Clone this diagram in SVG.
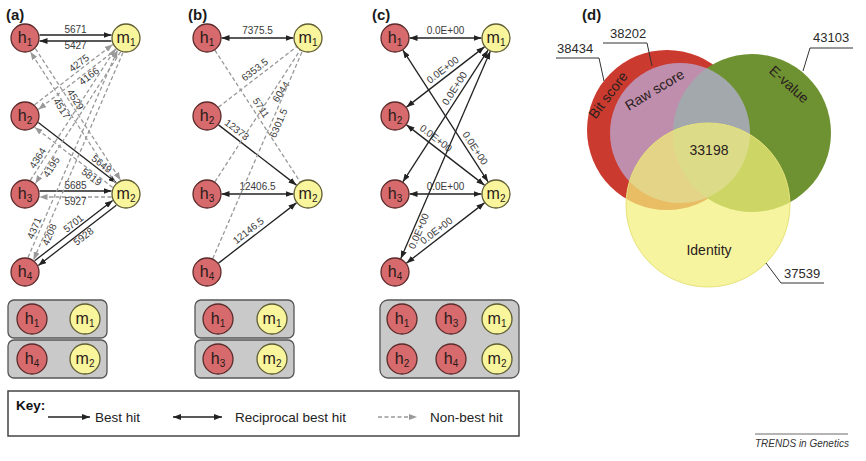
<svg xmlns="http://www.w3.org/2000/svg" width="866" height="461" viewBox="0 0 866 461">
<defs>
<style>
.pl{font:bold 15px "Liberation Sans",Arial,sans-serif;fill:#1a1a1a}
.nh{fill:#d66a6c;stroke:#5b2b2b;stroke-width:1.3}
.nm{fill:#f8f59c;stroke:#5f5c33;stroke-width:1.3}
.nt{font:16px "Liberation Sans",Arial,sans-serif;fill:#2a1a1a;text-anchor:middle}
.sub{font-size:10px}
.el{font:10px "Liberation Sans",Arial,sans-serif;fill:#3a3a3a;text-anchor:middle}
.s{stroke:#222;stroke-width:1.3;fill:none}
.sk{stroke:#222;stroke-width:1.3;fill:none;marker-end:url(#ak)}
.sk2{stroke:#222;stroke-width:1.3;fill:none;marker-end:url(#ak);marker-start:url(#ak)}
.d{stroke:#999;stroke-width:1.3;stroke-dasharray:4 2.5;fill:none}
.dg{stroke:#999;stroke-width:1.3;stroke-dasharray:4 2.5;fill:none;marker-end:url(#ag)}
.box{fill:#c9c9c9;stroke:#555;stroke-width:1.3}
.kt{font:13.5px "Liberation Sans",Arial,sans-serif;fill:#222}
.vt{font:14px "Liberation Sans",Arial,sans-serif;fill:#2a2020;text-anchor:middle}
.lt{font:13px "Liberation Sans",Arial,sans-serif;fill:#2a2a2a}
.ll{stroke:#333;stroke-width:1;fill:none}
</style>
<marker id="ak" viewBox="0 0 8 6" refX="8" refY="3" markerWidth="8" markerHeight="6" markerUnits="userSpaceOnUse" orient="auto-start-reverse"><path d="M0,0L8,3L0,6z" fill="#222"/></marker>
<marker id="ag" viewBox="0 0 8 6" refX="8" refY="3" markerWidth="8" markerHeight="6" markerUnits="userSpaceOnUse" orient="auto-start-reverse"><path d="M0,0L8,3L0,6z" fill="#999"/></marker>
</defs>
<rect width="866" height="461" fill="#fff"/>

<text class="pl" x="6" y="20">(a)</text>
<text class="pl" x="188" y="20">(b)</text>
<text class="pl" x="372" y="20">(c)</text>
<text class="pl" x="582" y="20">(d)</text>

<!-- connectors -->
<g id="connectors">
 <!-- panel a -->
 <g transform="translate(25,38)">
  <line class="sk" x1="14.5" y1="-3" x2="86.5" y2="-3"/>
  <line class="sk" x1="86.5" y1="3" x2="14.5" y2="3"/>
  <text class="el" x="50.5" y="-5.5">5671</text><text class="el" x="50.5" y="11">5427</text>
 </g>
 <g transform="translate(25,194)">
  <line class="sk" x1="14.5" y1="-3" x2="86.5" y2="-3"/>
  <line class="dg" x1="86.5" y1="3" x2="14.5" y2="3"/>
  <text class="el" x="50.5" y="-5.5">5685</text><text class="el" x="50.5" y="11">5927</text>
 </g>
 <g transform="translate(25,116) rotate(37.68)">
  <line class="sk" x1="14.5" y1="-3" x2="113.1" y2="-3"/>
  <line class="dg" x1="113.1" y1="3" x2="14.5" y2="3"/>
  <text class="el" x="90" y="-5.5">5649</text><text class="el" x="90" y="11">5819</text>
 </g>
 <g transform="translate(25,272) rotate(-37.68)">
  <line class="sk" x1="14.5" y1="-3" x2="113.1" y2="-3"/>
  <line class="sk" x1="113.1" y1="3" x2="14.5" y2="3"/>
  <text class="el" x="68" y="-5.5">5701</text><text class="el" x="68" y="11">5928</text>
 </g>
 <g transform="translate(25,38) rotate(57.08)">
  <line class="dg" x1="14.5" y1="-3" x2="171.3" y2="-3"/>
  <line class="dg" x1="171.3" y1="3" x2="14.5" y2="3"/>
  <text class="el" x="79" y="-5.5">4529</text><text class="el" x="79" y="11">4517</text>
 </g>
 <g transform="translate(25,116) rotate(-37.68)">
  <line class="dg" x1="14.5" y1="-3" x2="113.1" y2="-3"/>
  <line class="dg" x1="113.1" y1="3" x2="14.5" y2="3"/>
  <text class="el" x="75" y="-5.5">4275</text><text class="el" x="75" y="11">4166</text>
 </g>
 <g transform="translate(25,194) rotate(-57.08)">
  <line class="dg" x1="14.5" y1="-3" x2="171.3" y2="-3"/>
  <line class="dg" x1="171.3" y1="3" x2="14.5" y2="3"/>
  <text class="el" x="37" y="-5.5">4364</text><text class="el" x="37" y="11">4195</text>
 </g>
 <g transform="translate(25,272) rotate(-66.65)">
  <line class="dg" x1="14.5" y1="-3" x2="240.4" y2="-3"/>
  <line class="dg" x1="240.4" y1="3" x2="14.5" y2="3"/>
  <text class="el" x="44" y="-5.5">4371</text><text class="el" x="44" y="11">4208</text>
 </g>

 <!-- panel b -->
 <g transform="translate(207,38)">
  <line class="sk2" x1="14.5" y1="0" x2="86.5" y2="0"/>
  <text class="el" x="50.5" y="-4">7375.5</text>
 </g>
 <g transform="translate(207,194)">
  <line class="sk2" x1="14.5" y1="0" x2="86.5" y2="0"/>
  <text class="el" x="50.5" y="-4">12406.5</text>
 </g>
 <g transform="translate(207,116) rotate(37.68)">
  <line class="sk" x1="14.5" y1="0" x2="113.1" y2="0"/>
  <text class="el" x="32" y="-4">12373</text>
 </g>
 <g transform="translate(207,272) rotate(-37.68)">
  <line class="sk" x1="14.5" y1="0" x2="113.1" y2="0"/>
  <text class="el" x="58" y="-4">12146.5</text>
 </g>
 <g transform="translate(207,38) rotate(57.08)">
  <line class="d" x1="14.5" y1="0" x2="171.3" y2="0"/>
  <text class="el" x="88" y="-4">5711</text>
 </g>
 <g transform="translate(207,116) rotate(-37.68)">
  <line class="d" x1="14.5" y1="0" x2="113.1" y2="0"/>
  <text class="el" x="66" y="-4">6353.5</text>
 </g>
 <g transform="translate(207,194) rotate(-57.08)">
  <line class="d" x1="14.5" y1="0" x2="171.3" y2="0"/>
  <text class="el" x="126" y="10">6044</text>
 </g>
 <g transform="translate(207,272) rotate(-66.65)">
  <line class="d" x1="14.5" y1="0" x2="240.4" y2="0"/>
  <text class="el" x="165" y="10">6301.5</text>
 </g>

 <!-- panel c -->
 <g transform="translate(395,38)">
  <line class="sk2" x1="14.5" y1="0" x2="86.5" y2="0"/>
  <text class="el" x="50.5" y="-4">0.0E+00</text>
 </g>
 <g transform="translate(395,194)">
  <line class="sk2" x1="14.5" y1="0" x2="86.5" y2="0"/>
  <text class="el" x="50.5" y="-4">0.0E+00</text>
 </g>
 <g transform="translate(395,116) rotate(37.68)">
  <line class="sk2" x1="14.5" y1="0" x2="113.1" y2="0"/>
  <text class="el" x="46" y="-4">0.0E+00</text>
 </g>
 <g transform="translate(395,272) rotate(-37.68)">
  <line class="sk2" x1="14.5" y1="0" x2="113.1" y2="0"/>
  <text class="el" x="58" y="-4">0.0E+00</text>
 </g>
 <g transform="translate(395,38) rotate(57.08)">
  <line class="sk2" x1="14.5" y1="0" x2="171.3" y2="0"/>
  <text class="el" x="136" y="-4">0.0E+00</text>
 </g>
 <g transform="translate(395,116) rotate(-37.68)">
  <line class="sk2" x1="14.5" y1="0" x2="113.1" y2="0"/>
  <text class="el" x="66" y="-4">0.0E+00</text>
 </g>
 <g transform="translate(395,194) rotate(-57.08)">
  <line class="sk2" x1="14.5" y1="0" x2="171.3" y2="0"/>
  <text class="el" x="121" y="-4">0.0E+00</text>
 </g>
 <g transform="translate(395,272) rotate(-66.65)">
  <line class="sk2" x1="14.5" y1="0" x2="240.4" y2="0"/>
  <text class="el" x="47" y="9">0.0E+00</text>
 </g>
</g>

<!-- nodes panel a -->
<g id="a-h1"><circle class="nh" cx="25" cy="38" r="14"/><text class="nt" x="25" y="42.5">h<tspan class="sub" dy="3">1</tspan></text></g>
<g id="a-h2"><circle class="nh" cx="25" cy="116" r="14"/><text class="nt" x="25" y="120.5">h<tspan class="sub" dy="3">2</tspan></text></g>
<g id="a-h3"><circle class="nh" cx="25" cy="194" r="14"/><text class="nt" x="25" y="198.5">h<tspan class="sub" dy="3">3</tspan></text></g>
<g id="a-h4"><circle class="nh" cx="25" cy="272" r="14"/><text class="nt" x="25" y="276.5">h<tspan class="sub" dy="3">4</tspan></text></g>
<g id="a-m1"><circle class="nm" cx="126" cy="38" r="14"/><text class="nt" x="126" y="42.5">m<tspan class="sub" dy="3">1</tspan></text></g>
<g id="a-m2"><circle class="nm" cx="126" cy="194" r="14"/><text class="nt" x="126" y="198.5">m<tspan class="sub" dy="3">2</tspan></text></g>
<!-- nodes panel b -->
<g id="b-h1"><circle class="nh" cx="207" cy="38" r="14"/><text class="nt" x="207" y="42.5">h<tspan class="sub" dy="3">1</tspan></text></g>
<g id="b-h2"><circle class="nh" cx="207" cy="116" r="14"/><text class="nt" x="207" y="120.5">h<tspan class="sub" dy="3">2</tspan></text></g>
<g id="b-h3"><circle class="nh" cx="207" cy="194" r="14"/><text class="nt" x="207" y="198.5">h<tspan class="sub" dy="3">3</tspan></text></g>
<g id="b-h4"><circle class="nh" cx="207" cy="272" r="14"/><text class="nt" x="207" y="276.5">h<tspan class="sub" dy="3">4</tspan></text></g>
<g id="b-m1"><circle class="nm" cx="308" cy="38" r="14"/><text class="nt" x="308" y="42.5">m<tspan class="sub" dy="3">1</tspan></text></g>
<g id="b-m2"><circle class="nm" cx="308" cy="194" r="14"/><text class="nt" x="308" y="198.5">m<tspan class="sub" dy="3">2</tspan></text></g>
<!-- nodes panel c -->
<g id="c-h1"><circle class="nh" cx="395" cy="38" r="14"/><text class="nt" x="395" y="42.5">h<tspan class="sub" dy="3">1</tspan></text></g>
<g id="c-h2"><circle class="nh" cx="395" cy="116" r="14"/><text class="nt" x="395" y="120.5">h<tspan class="sub" dy="3">2</tspan></text></g>
<g id="c-h3"><circle class="nh" cx="395" cy="194" r="14"/><text class="nt" x="395" y="198.5">h<tspan class="sub" dy="3">3</tspan></text></g>
<g id="c-h4"><circle class="nh" cx="395" cy="272" r="14"/><text class="nt" x="395" y="276.5">h<tspan class="sub" dy="3">4</tspan></text></g>
<g id="c-m1"><circle class="nm" cx="496" cy="38" r="14"/><text class="nt" x="496" y="42.5">m<tspan class="sub" dy="3">1</tspan></text></g>
<g id="c-m2"><circle class="nm" cx="496" cy="194" r="14"/><text class="nt" x="496" y="198.5">m<tspan class="sub" dy="3">2</tspan></text></g>

<!-- result groups -->
<g id="grp-a1"><rect class="box" x="8" y="300" width="99" height="38" rx="6"/>
 <circle class="nh" cx="32" cy="319" r="15"/><text class="nt" x="32" y="323.5">h<tspan class="sub" dy="3">1</tspan></text>
 <circle class="nm" cx="85" cy="319" r="15"/><text class="nt" x="85" y="323.5">m<tspan class="sub" dy="3">1</tspan></text></g>
<g id="grp-a2"><rect class="box" x="8" y="340" width="99" height="38" rx="6"/>
 <circle class="nh" cx="32" cy="359" r="15"/><text class="nt" x="32" y="363.5">h<tspan class="sub" dy="3">4</tspan></text>
 <circle class="nm" cx="85" cy="359" r="15"/><text class="nt" x="85" y="363.5">m<tspan class="sub" dy="3">2</tspan></text></g>
<g id="grp-b1"><rect class="box" x="195" y="300" width="99" height="38" rx="6"/>
 <circle class="nh" cx="218" cy="319" r="15"/><text class="nt" x="218" y="323.5">h<tspan class="sub" dy="3">1</tspan></text>
 <circle class="nm" cx="272" cy="319" r="15"/><text class="nt" x="272" y="323.5">m<tspan class="sub" dy="3">1</tspan></text></g>
<g id="grp-b2"><rect class="box" x="195" y="340" width="99" height="38" rx="6"/>
 <circle class="nh" cx="218" cy="359" r="15"/><text class="nt" x="218" y="363.5">h<tspan class="sub" dy="3">3</tspan></text>
 <circle class="nm" cx="272" cy="359" r="15"/><text class="nt" x="272" y="363.5">m<tspan class="sub" dy="3">2</tspan></text></g>
<g id="grp-c"><rect class="box" x="380" y="300" width="139" height="78" rx="8"/>
 <circle class="nh" cx="402" cy="319" r="15"/><text class="nt" x="402" y="323.5">h<tspan class="sub" dy="3">1</tspan></text>
 <circle class="nh" cx="451" cy="319" r="15"/><text class="nt" x="451" y="323.5">h<tspan class="sub" dy="3">3</tspan></text>
 <circle class="nm" cx="497" cy="319" r="15"/><text class="nt" x="497" y="323.5">m<tspan class="sub" dy="3">1</tspan></text>
 <circle class="nh" cx="402" cy="359" r="15"/><text class="nt" x="402" y="363.5">h<tspan class="sub" dy="3">2</tspan></text>
 <circle class="nh" cx="451" cy="359" r="15"/><text class="nt" x="451" y="363.5">h<tspan class="sub" dy="3">4</tspan></text>
 <circle class="nm" cx="497" cy="359" r="15"/><text class="nt" x="497" y="363.5">m<tspan class="sub" dy="3">2</tspan></text></g>

<!-- key -->
<g id="key">
 <rect x="8" y="391" width="511" height="45" fill="#fff" stroke="#444" stroke-width="1.5"/>
 <text x="16" y="410" style="font:bold 13.5px 'Liberation Sans',Arial,sans-serif;fill:#111">Key:</text>
 <line class="sk" x1="48" y1="417" x2="90" y2="417"/>
 <text class="kt" x="95" y="422">Best hit</text>
 <line class="sk2" x1="173" y1="417" x2="222" y2="417"/>
 <text class="kt" x="235" y="422">Reciprocal best hit</text>
 <line class="dg" x1="378" y1="417" x2="417" y2="417"/>
 <text class="kt" x="430" y="422">Non-best hit</text>
</g>

<!-- venn -->
<g id="venn">
 <circle cx="667" cy="130" r="80" fill="#cb3a2e"/>
 <circle cx="752" cy="133" r="79" fill="#6e9231"/>
 <circle cx="680" cy="133" r="70" fill="#b9b2e2" fill-opacity="0.7"/>
 <circle cx="708" cy="205" r="82" fill="#f3f07a" fill-opacity="0.72" stroke="#e6e27a" stroke-width="1"/>
 <text class="vt" transform="translate(612,98) rotate(-53)">Bit score</text>
 <text class="vt" transform="translate(657,94) rotate(-31)">Raw score</text>
 <text class="vt" transform="translate(786,88) rotate(42)">E-value</text>
 <text class="vt" x="709" y="155">33198</text>
 <text class="vt" x="709" y="255">Identity</text>
 <text class="lt" x="557" y="53">38434</text>
 <polyline class="ll" points="556,58 599,58 604,81"/>
 <text class="lt" x="610" y="38">38202</text>
 <polyline class="ll" points="603,43 647,43 652,66"/>
 <text class="lt" x="813" y="42">43103</text>
 <polyline class="ll" points="853,48 810,48 803,71"/>
 <text class="lt" x="784" y="278">37539</text>
 <polyline class="ll" points="766,263 781,283 824,283"/>
</g>

<line x1="755" y1="434" x2="848" y2="434" stroke="#444" stroke-width="0.8"/>
<text x="755" y="447" style="font:italic 10px 'Liberation Sans',Arial,sans-serif;fill:#333">TRENDS in Genetics</text>
</svg>
